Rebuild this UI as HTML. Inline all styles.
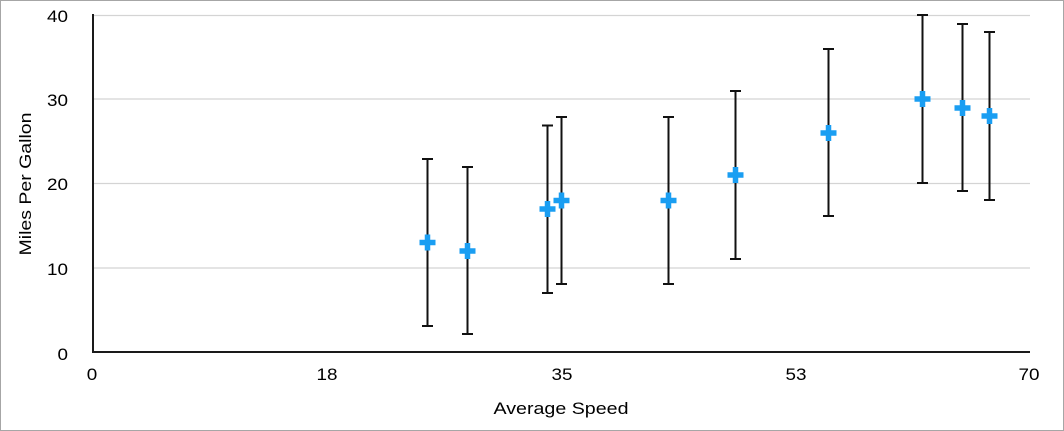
<!DOCTYPE html>
<html><head><meta charset="utf-8"><style>
html,body{margin:0;padding:0;background:#fff;}
svg{display:block;}
text{font-family:"Liberation Sans",Arial,sans-serif;fill:#000;}
</style></head><body>
<svg width="1064" height="431" viewBox="0 0 1064 431" xmlns="http://www.w3.org/2000/svg">
<rect x="0.5" y="0.5" width="1063" height="430" fill="#fff" stroke="#a6a6a6" stroke-width="1"/>
<g stroke="#d4d4d4" stroke-width="1.2">
<line x1="93" y1="15.5" x2="1030" y2="15.5"/>
<line x1="93" y1="99" x2="1030" y2="99"/>
<line x1="93" y1="183.5" x2="1030" y2="183.5"/>
<line x1="93" y1="268" x2="1030" y2="268"/>
</g>
<line x1="93" y1="14" x2="93" y2="353" stroke="#1a1a1a" stroke-width="2"/>
<line x1="92" y1="352" x2="1030" y2="352" stroke="#1a1a1a" stroke-width="2"/>
<g font-size="17" text-anchor="end">
<text x="68" y="22" textLength="21" lengthAdjust="spacingAndGlyphs">40</text>
<text x="68" y="106" textLength="21" lengthAdjust="spacingAndGlyphs">30</text>
<text x="68" y="190" textLength="21" lengthAdjust="spacingAndGlyphs">20</text>
<text x="68" y="275" textLength="21" lengthAdjust="spacingAndGlyphs">10</text>
<text x="68" y="360" textLength="10.5" lengthAdjust="spacingAndGlyphs">0</text>
</g>
<g font-size="17" text-anchor="middle">
<text x="92" y="380" textLength="10.5" lengthAdjust="spacingAndGlyphs">0</text>
<text x="327" y="380" textLength="21" lengthAdjust="spacingAndGlyphs">18</text>
<text x="562" y="380" textLength="21" lengthAdjust="spacingAndGlyphs">35</text>
<text x="796" y="380" textLength="21" lengthAdjust="spacingAndGlyphs">53</text>
<text x="1029" y="380" textLength="21" lengthAdjust="spacingAndGlyphs">70</text>
<text x="561" y="414" textLength="135" lengthAdjust="spacingAndGlyphs">Average Speed</text>
</g>
<text font-size="17" text-anchor="middle" transform="translate(31,184) rotate(-90)" textLength="143" lengthAdjust="spacingAndGlyphs">Miles Per Gallon</text>
<g stroke="#111" stroke-width="2" fill="none">
<path d="M427.5 159V326M422 159H433M422 326H433"/>
<path d="M467.5 167V334M462 167H473M462 334H473"/>
<path d="M547.5 125.5V293M542 125.5H553M542 293H553"/>
<path d="M561.5 117V284M556 117H567M556 284H567"/>
<path d="M668.5 117V284M663 117H674M663 284H674"/>
<path d="M735.5 91V259M730 91H741M730 259H741"/>
<path d="M828.5 49V216M823 49H834M823 216H834"/>
<path d="M922.5 15V183M917 15H928M917 183H928"/>
<path d="M962.5 24V191M957 24H968M957 191H968"/>
<path d="M989.5 32V200M984 32H995M984 200H995"/>
</g>
<g fill="#1a9ef2" stroke="none">
<path d="M424.75 234.5h5.5v5.25h5.25v5.5h-5.25v5.25h-5.5v-5.25h-5.25v-5.5h5.25z"/>
<path d="M464.75 243h5.5v5.25h5.25v5.5h-5.25v5.25h-5.5v-5.25h-5.25v-5.5h5.25z"/>
<path d="M544.75 201h5.5v5.25h5.25v5.5h-5.25v5.25h-5.5v-5.25h-5.25v-5.5h5.25z"/>
<path d="M558.75 192.5h5.5v5.25h5.25v5.5h-5.25v5.25h-5.5v-5.25h-5.25v-5.5h5.25z"/>
<path d="M665.75 192.5h5.5v5.25h5.25v5.5h-5.25v5.25h-5.5v-5.25h-5.25v-5.5h5.25z"/>
<path d="M732.75 167h5.5v5.25h5.25v5.5h-5.25v5.25h-5.5v-5.25h-5.25v-5.5h5.25z"/>
<path d="M825.75 125h5.5v5.25h5.25v5.5h-5.25v5.25h-5.5v-5.25h-5.25v-5.5h5.25z"/>
<path d="M919.75 91h5.5v5.25h5.25v5.5h-5.25v5.25h-5.5v-5.25h-5.25v-5.5h5.25z"/>
<path d="M959.75 100h5.5v5.25h5.25v5.5h-5.25v5.25h-5.5v-5.25h-5.25v-5.5h5.25z"/>
<path d="M986.75 108h5.5v5.25h5.25v5.5h-5.25v5.25h-5.5v-5.25h-5.25v-5.5h5.25z"/>
</g>
</svg>
</body></html>
